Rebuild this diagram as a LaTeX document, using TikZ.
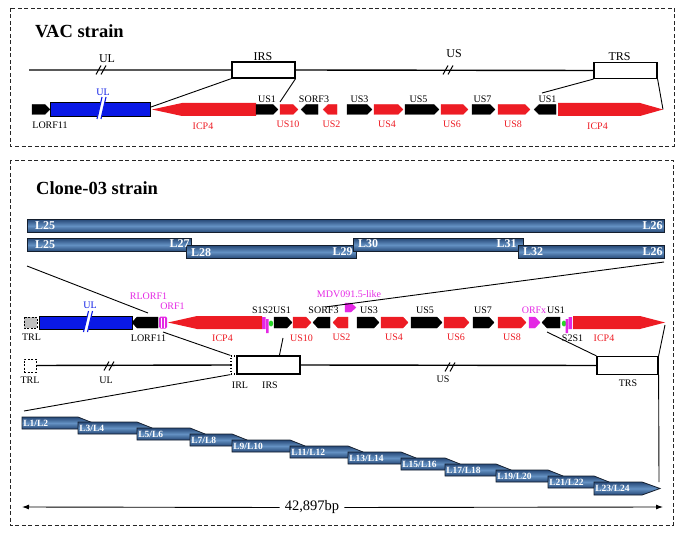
\documentclass[tikz,border=0pt]{standalone}
\usepackage{fontspec}
\setmainfont{Liberation Serif}
\usetikzlibrary{arrows.meta, positioning, calc}
\definecolor{genered}{RGB}{237, 28, 36}
\definecolor{geneblue}{RGB}{10, 25, 230}
\definecolor{genemag}{RGB}{228, 40, 228}
\definecolor{genegreen}{RGB}{40, 215, 40}
\definecolor{bardark}{RGB}{38, 72, 118}
\definecolor{barlight}{RGB}{100, 145, 195}
\definecolor{barline}{RGB}{20, 30, 45}
% ORF arrows: style, x start, x end, y centre, half height
\newcommand{\fwdorf}[5]{\filldraw[#1] (#2,#4-#5) -- (#3-5,#4-#5) -- (#3,#4) -- (#3-5,#4+#5) -- (#2,#4+#5) -- cycle;}
\newcommand{\revorf}[5]{\filldraw[#1] (#3,#4-#5) -- (#2+5,#4-#5) -- (#2,#4) -- (#2+5,#4+#5) -- (#3,#4+#5) -- cycle;}
% break marks
\newcommand{\slashes}[2]{\draw[line width=1pt] (#1-6,#2+4.5) -- (#1-1,#2-4.5) (#1-1,#2+4.5) -- (#1+4,#2-4.5);}
\newcommand{\ulbreak}[3]{\fill[white] (#1-4.5,#3) -- (#1-0.5,#3) -- (#1+4.5,#2) -- (#1+0.5,#2) -- cycle;
  \draw[geneblue, line width=1.1pt] (#1-4.5,#3) -- (#1+0.5,#2) (#1-0.5,#3) -- (#1+4.5,#2);}

\begin{document}
\begin{tikzpicture}[x=1pt, y=-1pt,
    panel/.style={draw=black!85, line width=0.9pt, dash pattern=on 4pt off 2.5pt},
    title/.style={font=\bfseries\fontsize{18.5}{20}\selectfont, anchor=west, inner sep=0},
    region/.style={draw, line width=1.2pt, fill=white, minimum height=16pt, inner sep=0},
    backbone/.style={line width=1.4pt},
    link/.style={line width=0.9pt},
    lab/.style={font=\fontsize{10}{12}\selectfont, inner sep=0},
    biglab/.style={font=\fontsize{12}{14}\selectfont, inner sep=0},
    redlab/.style={lab, text=genered},
    maglab/.style={lab, text=genemag},
    bluelab/.style={lab, text=geneblue},
    blackorf/.style={fill=black, draw=black, line width=0.3pt},
    redorf/.style={fill=genered, draw=genered, line width=0.3pt},
    magorf/.style={fill=genemag, draw=genemag, line width=0.3pt},
    lbar/.style={draw=barline, line width=0.8pt, top color=bardark, bottom color=bardark, middle color=barlight},
    barlab/.style={font=\bfseries\fontsize{12}{13}\selectfont, text=white, inner sep=0},
    steplab/.style={font=\bfseries\fontsize{9.5}{11}\selectfont, text=white, inner sep=1.2pt, anchor=west}
  ]
  \useasboundingbox (0,0) rectangle (685,537);

  % ---- VAC strain ----
  \draw[panel] (10,8) rectangle (674,146);
  \node[title] (vac) at (35,31.5) {VAC strain};
  \node[region, minimum width=63pt] (irs) at (263.5,70) {};
  \node[region, minimum width=63pt] (trs) at (625.5,70.5) {};
  \coordinate (vstart) at (29,70);
  \draw[backbone] (vstart) -- (irs.west) (irs.east) -- (trs.west);
  \slashes{102}{70} \slashes{449}{70}
  \node[biglab] (vul) at (107,59) {UL};
  \node[biglab] (virs) at (263,57) {IRS};
  \node[biglab] (vus) at (454,54) {US};
  \node[biglab] (vtrs) at (619.5,57) {TRS};

  \fwdorf{blackorf}{32}{50}{109.5}{5}
  \draw[fill=geneblue, line width=0.8pt] (50,102.5) rectangle (150,116.5);
  \ulbreak{101.5}{97}{119}
  \fill[genered] (152,109.5) -- (182,103) -- (256,103) -- (256,116) -- (182,116) -- cycle;
  \fwdorf{blackorf}{256}{278}{109.5}{5}
  \fwdorf{redorf}{280}{298}{109.5}{5}
  \revorf{blackorf}{301}{318}{109.5}{5}
  \revorf{redorf}{323}{337}{109.5}{5}
  \fwdorf{blackorf}{347}{372}{109.5}{5}
  \fwdorf{redorf}{374}{403}{109.5}{5}
  \fwdorf{blackorf}{405}{439}{109.5}{5}
  \fwdorf{redorf}{441}{468}{109.5}{5}
  \fwdorf{blackorf}{472}{495}{109.5}{5}
  \fwdorf{redorf}{498}{530}{109.5}{5}
  \revorf{blackorf}{534}{556}{109.5}{5}
  \fill[genered] (558,103) -- (640,103) -- (663,109.5) -- (640,116) -- (558,116) -- cycle;

  \node[bluelab] (vulg) at (103,92) {UL};
  \node[lab] (vlorf) at (50,125) {LORF11};
  \node[redlab] (vicpa) at (203,126) {ICP4};
  \node[lab] (vusa) at (267,99) {US1};
  \node[redlab] (vusb) at (288,124) {US10};
  \node[lab] (vsorf) at (314,99) {SORF3};
  \node[redlab] (vusc) at (331.5,124) {US2};
  \node[lab] (vusd) at (359.5,99) {US3};
  \node[redlab] (vuse) at (387,124) {US4};
  \node[lab] (vusf) at (418.5,99) {US5};
  \node[redlab] (vusg) at (452,124) {US6};
  \node[lab] (vush) at (482.5,99) {US7};
  \node[redlab] (vusi) at (513,124) {US8};
  \node[lab] (vusj) at (547.5,99) {US1};
  \node[redlab] (vicpb) at (597.5,126) {ICP4};

  \coordinate (vicpL) at (151,107);
  \coordinate (vus10) at (280,102);
  \coordinate (vus1r) at (542,93);
  \coordinate (vicpR) at (663,109.5);
  \draw[link] (irs.south west) -- (vicpL);
  \draw[link] (irs.south east) -- (vus10);
  \draw[link] (trs.south west) -- (vus1r);
  \draw[link] (trs.south east) -- (vicpR);

  % ---- Clone-03 strain ----
  \draw[panel] (10,160) rectangle (673,525);
  \node[title] (clone) at (36,188.5) {Clone-03 strain};

  \node[lbar, minimum width=637pt, minimum height=13pt, anchor=north west] (b2526) at (27,219) {};
  \node[lbar, minimum width=164pt, minimum height=13pt, anchor=north west] (b2527) at (27,238) {};
  \node[lbar, minimum width=170pt, minimum height=13pt, anchor=north west] (b2829) at (186,245) {};
  \node[lbar, minimum width=170pt, minimum height=13pt, anchor=north west] (b3031) at (353,238) {};
  \node[lbar, minimum width=146pt, minimum height=13pt, anchor=north west] (b3226) at (518,245) {};
  \node[barlab, anchor=west] (l25a) at ([xshift=8pt]b2526.west) {L25};
  \node[barlab, anchor=east] (l26a) at ([xshift=-2pt]b2526.east) {L26};
  \node[barlab, anchor=west] (l25b) at ([xshift=8pt]b2527.west) {L25};
  \node[barlab, anchor=east] (l27) at ([xshift=-2pt,yshift=1pt]b2527.east) {L27};
  \node[barlab, anchor=west] (l28) at ([xshift=5pt,yshift=-1pt]b2829.west) {L28};
  \node[barlab, anchor=east] (l29) at ([xshift=-4pt]b2829.east) {L29};
  \node[barlab, anchor=west] (l30) at ([xshift=5pt,yshift=1pt]b3031.west) {L30};
  \node[barlab, anchor=east] (l31) at ([xshift=-7pt,yshift=1pt]b3031.east) {L31};
  \node[barlab, anchor=west] (l32) at ([xshift=5pt]b3226.west) {L32};
  \node[barlab, anchor=east] (l26b) at ([xshift=-2pt]b3226.east) {L26};

  \draw[fill=black!25, line width=0.8pt, dash pattern=on 2pt off 1.5pt] (24,317) rectangle (37,328);
  \draw[fill=geneblue, line width=0.8pt] (39,316) rectangle (132,329);
  \ulbreak{88}{311}{332}
  \revorf{blackorf}{132}{158}{322.5}{5.5}
  \fill[genemag, rounded corners=1.5pt] (159,316.5) rectangle (167,328.5);
  \draw[white, line width=0.6pt] (161.7,317.5) -- (161.7,327.5) (164.3,317.5) -- (164.3,327.5);
  \fill[genered] (168,322.5) -- (197,316) -- (262,316) -- (262,329) -- (197,329) -- cycle;
  \fill[genemag] (262,317) rectangle (265.5,329) (266,319) rectangle (268.5,333);
  \fill[genegreen] (271,323.5) ellipse [x radius=2.2pt, y radius=3pt];
  \fwdorf{blackorf}{274}{292}{322.5}{5.5}
  \fwdorf{redorf}{293}{311}{322.5}{5.5}
  \revorf{blackorf}{313}{330}{322.5}{5.5}
  \revorf{redorf}{333}{348}{322.5}{5.5}
  \fwdorf{magorf}{345}{356}{307.5}{4.5}
  \fwdorf{blackorf}{357}{379}{322.5}{5.5}
  \fwdorf{redorf}{381}{408}{322.5}{5.5}
  \fwdorf{blackorf}{411}{442}{322.5}{5.5}
  \fwdorf{redorf}{444}{469}{322.5}{5.5}
  \fwdorf{blackorf}{473}{494}{322.5}{5.5}
  \fwdorf{redorf}{498}{526}{322.5}{5.5}
  \fwdorf{magorf}{529}{540}{322.5}{5.5}
  \revorf{blackorf}{542}{560}{322.5}{5.5}
  \fill[genegreen] (564,323.5) ellipse [x radius=2.2pt, y radius=3pt];
  \fill[genemag] (565.5,319) rectangle (568,333) (568.5,317) rectangle (572,329);
  \fill[genered] (573,316) -- (640,316) -- (665,322.5) -- (640,329) -- (573,329) -- cycle;

  \node[lab] (ctrl) at (31.5,337) {TRL};
  \node[bluelab] (cul) at (90,305) {UL};
  \node[maglab] (crlorf) at (148.5,296.5) {RLORF1};
  \node[maglab] (corf1) at (172.5,306.5) {ORF1};
  \node[lab] (clorf) at (148.5,338.5) {LORF11};
  \node[redlab] (cicpa) at (222.5,338.5) {ICP4};
  \node[lab] (cs1s2) at (271.5,310) {S1S2US1};
  \node[redlab] (cusb) at (301.5,338) {US10};
  \node[lab] (csorf) at (323.5,310) {SORF3};
  \node[redlab] (cusc) at (341.5,337) {US2};
  \node[maglab] (cmdv) at (349,294) {MDV091.5-like};
  \node[lab] (cusd) at (369,310) {US3};
  \node[redlab] (cuse) at (394,337) {US4};
  \node[lab] (cusf) at (425,310) {US5};
  \node[redlab] (cusg) at (456,337) {US6};
  \node[lab] (cush) at (483,310) {US7};
  \node[redlab] (cusi) at (512,337) {US8};
  \node[maglab] (corfx) at (534,310) {ORFx};
  \node[lab] (cusj) at (556,310) {US1};
  \node[lab] (cs2s1) at (572.5,338) {S2S1};
  \node[redlab] (cicpb) at (604,338) {ICP4};

  \node[draw, fill=white, line width=1pt, dash pattern=on 2pt off 1.5pt, minimum width=12pt, minimum height=13pt, inner sep=0] (trl) at (30,365.5) {};
  \node[region, minimum width=6pt, minimum height=18pt, dotted] (irl) at (234,365) {};
  \node[region, minimum width=63pt, minimum height=18pt] (irs2) at (268.5,365) {};
  \node[region, minimum width=61pt, minimum height=18pt] (trs2) at (627.5,365.5) {};
  \draw[backbone] (trl.east) -- (irl.west) (irs2.east) -- (trs2.west);
  \slashes{110}{366} \slashes{451}{367}
  \node[lab] (btrl) at (30,380) {TRL};
  \node[lab] (bul) at (106,380) {UL};
  \node[lab] (birl) at (240,385.5) {IRL};
  \node[lab] (birs) at (270,385.5) {IRS};
  \node[lab] (bus) at (443,379) {US};
  \node[lab] (btrs) at (628,383.5) {TRS};

  \coordinate (barL) at (27,266);
  \coordinate (cLorf) at (148,313);
  \coordinate (barR) at (664,262);
  \coordinate (cSorf) at (325,307);
  \coordinate (cLorfB) at (163,332);
  \coordinate (cUsa) at (283,338);
  \coordinate (cUsb) at (547,332);
  \coordinate (cIcpR) at (665,325);
  \draw[link] (barL) -- (cLorf);
  \draw[link] (barR) -- (cSorf);
  \draw[link] (cLorfB) -- (irl.north west);
  \draw[link] (cUsa) -- ($(irs2.north west)!0.67!(irs2.north east)$);
  \draw[link] (cUsb) -- (trs2.north west);
  \draw[link] (cIcpR) -- (trs2.north east);

  % staircase of overlapping fragments
  \foreach \xa/\ya/\xb [count=\k] in {22/417/78, 78/422/137, 137/428/190, 190/434/232, 232/440/290, 290/446/348, 348/452/401, 401/458/445, 445/464/496, 496/470/548, 548/476/594}{
    \path[lbar] (\xa,\ya) -- (\xb,\ya) -- (\xb+15,\ya+6) -- (\xb+15,\ya+12) -- (\xa,\ya+12) -- cycle;
    \pgfmathtruncatemacro{\la}{2*\k-1}
    \pgfmathtruncatemacro{\lb}{2*\k}
    \node[steplab] (s\k) at (\xa,\ya+6.5) {L\la/L\lb};
  }
  \path[lbar] (594,482) -- (642,482) -- (660,488.5) -- (642,495) -- (594,495) -- cycle;
  \node[steplab] (s12) at (594,488.5) {L23/L24};
  \coordinate (stairL) at (24,411);
  \coordinate (stairR) at (659,482);
  \draw[link] (stairL) -- (irl.south west);
  \draw[link] (trs2.south east) -- (stairR);

  \node[lab, font=\fontsize{14.5}{16}\selectfont, fill=white, inner xsep=5pt, inner ysep=1pt] (len) at (312,507.5) {42,897bp};
  \coordinate (lenL) at (22,507);
  \coordinate (lenR) at (663,507);
  \draw[link, -{Latex[length=7pt,width=5pt]}] (len.west) -- (lenL);
  \draw[link, -{Latex[length=7pt,width=5pt]}] (len.east) -- (lenR);
\end{tikzpicture}
\end{document}
